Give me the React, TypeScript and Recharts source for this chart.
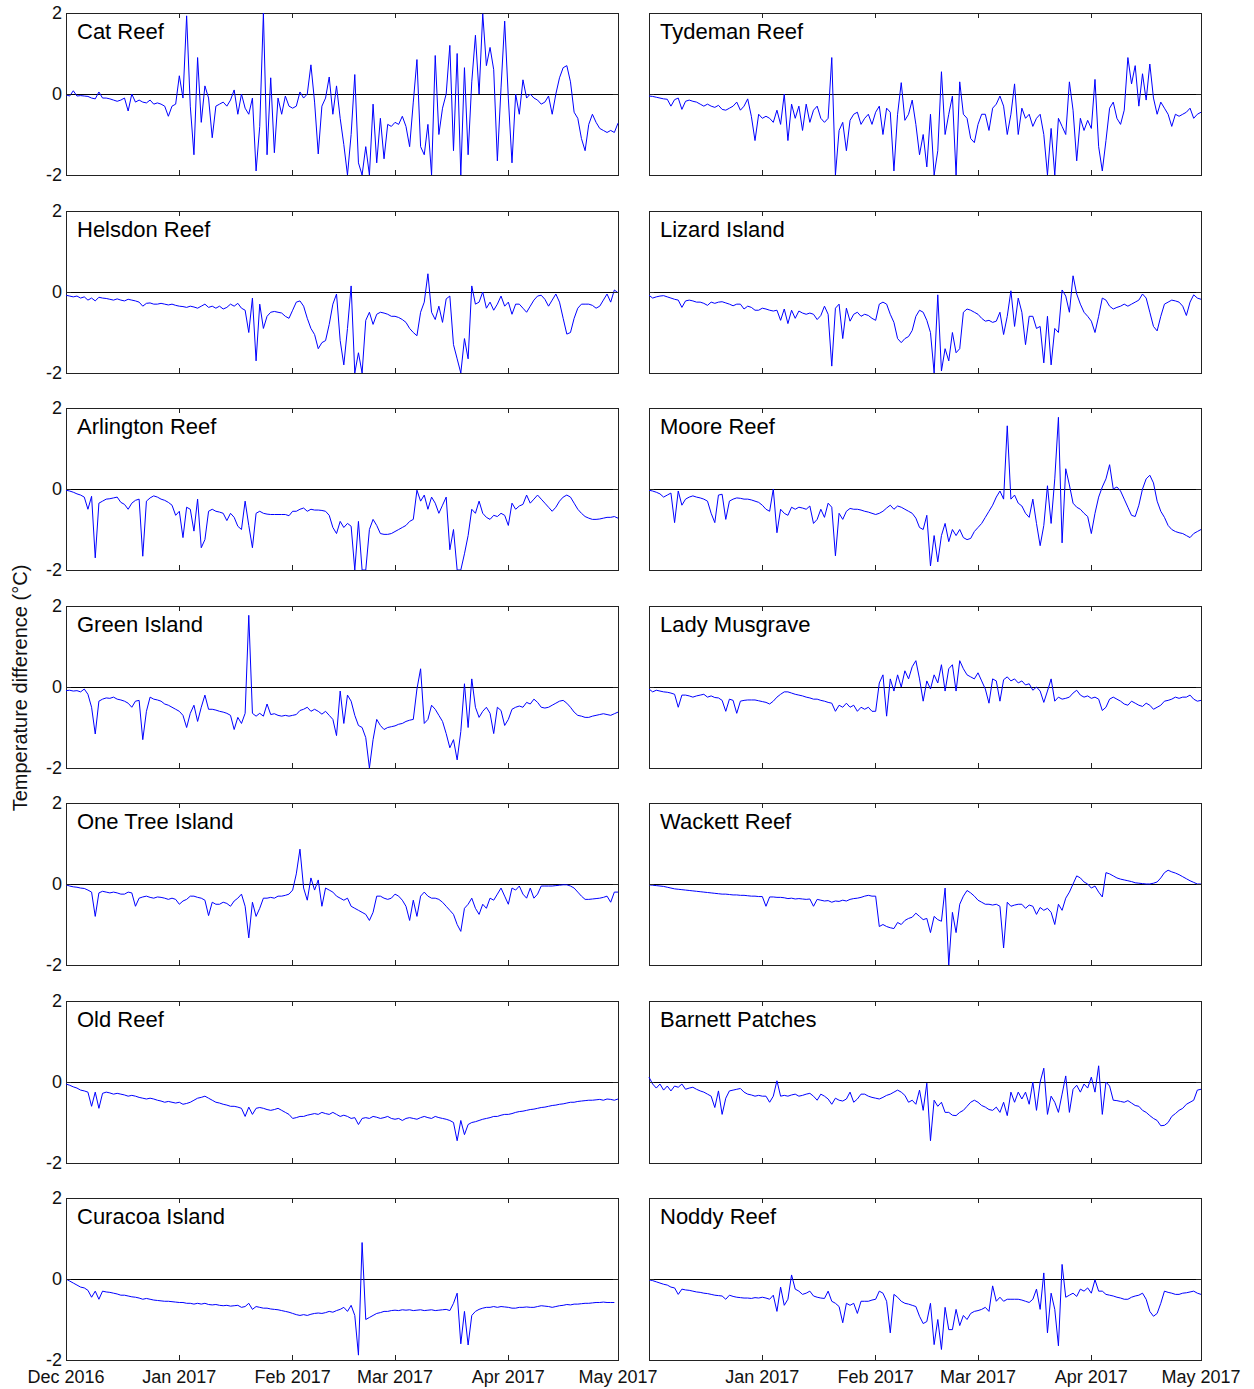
import { LineChart, Line, XAxis, YAxis, ReferenceLine, ReferenceArea } from "recharts";

const FONT = "'Liberation Sans', Arial, Helvetica, sans-serif";

// x axis: days since 1 Dec 2016
const MONTH_DAYS = [0, 31, 62, 90, 121, 151];
const MONTH_LABELS = ["Dec 2016", "Jan 2017", "Feb 2017", "Mar 2017", "Apr 2017", "May 2017"];
const Y_TICKS = [-2, 0, 2];

// daily temperature difference (°C)
const catReef = [
  -0.02, -0.05, 0.08, -0.05, -0.04, -0.05, -0.06, -0.1, -0.12, 0.05,
  -0.1, -0.1, -0.12, -0.15, -0.18, -0.15, -0.1, -0.42, 0.0, -0.2,
  -0.15, -0.2, -0.22, -0.15, -0.25, -0.22, -0.25, -0.3, -0.55, -0.3,
  -0.25, 0.45, -0.1, 1.93, -0.3, -1.5, 0.9, -0.7, 0.2, -0.1,
  -1.08, -0.3, -0.25, -0.2, -0.3, -0.15, 0.1, -0.5, 0.0, -0.35,
  -0.5, -0.1, -1.9, -0.8, 2.0, -1.5, 0.4, -1.45, -0.1, -0.5,
  -0.05, -0.3, -0.35, -0.3, 0.05, -0.1, 0.0, 0.72, -0.2, -1.48,
  -0.3, -0.1, 0.42, -0.5, 0.2, -0.6, -1.25, -2.0, -1.0, 0.48,
  -1.7, -2.0, -1.3, -2.0, -0.25, -1.7, -0.6, -1.6, -0.75, -0.8,
  -0.7, -0.75, -0.55, -0.8, -1.3, -0.2, 0.85, -1.3, -1.5, -0.75,
  -2.0, 0.95, -1.0, -0.35, 0.0, 1.2, -1.4, 1.0, -2.0, 0.65,
  -1.5, 0.3, 1.45, 0.0, 1.98, 0.7, 1.15, 0.6, -1.65, 0.15,
  1.8, -0.1, -1.7, 0.0, -0.5, 0.35, -0.1, 0.0, -0.1, -0.15,
  -0.25, -0.2, -0.05, -0.5, 0.0, 0.4, 0.65, 0.7, 0.3, -0.45,
  -0.6, -1.1, -1.4, -0.75, -0.5, -0.7, -0.85, -0.9, -0.95, -0.9,
  -0.95, -0.72,
];

const tydemanReef = [
  -0.05, -0.06, -0.08, -0.1, -0.12, -0.13, -0.3, -0.14, -0.1, -0.38,
  -0.18, -0.15, -0.18, -0.2, -0.25, -0.3, -0.25, -0.3, -0.33, -0.28,
  -0.38, -0.4, -0.35, -0.3, -0.2, -0.4, -0.3, -0.12, -0.55, -1.15,
  -0.5, -0.6, -0.55, -0.6, -0.7, -0.4, -0.75, 0.0, -1.15, -0.25,
  -0.6, -0.3, -0.9, -0.25, -0.7, -0.4, -0.3, -0.6, -0.7, -0.6,
  0.9, -2.0, -0.9, -0.7, -1.4, -0.65, -0.5, -0.45, -0.75, -0.6,
  -0.5, -0.75, -0.45, -0.3, -1.0, -0.35, -0.45, -1.9, -0.5, 0.28,
  -0.65, -0.5, -0.15, -0.75, -1.5, -1.0, -1.8, -0.5, -2.0, -1.4,
  0.55, -1.0, -0.5, -0.05, -2.0, 0.3, -0.5, -0.6, -1.1, -1.2,
  -0.75, -0.5, -0.5, -0.9, -0.35, -0.25, -0.05, -0.3, -1.0, -0.5,
  0.25, -1.0, -0.35, -0.6, -0.5, -0.8, -0.6, -0.5, -1.0, -2.0,
  -0.85, -2.0, -0.6, -0.8, -1.0, 0.3, -0.4, -1.65, -0.6, -0.9,
  -0.65, -0.85, 0.36, -1.3, -1.9, -1.15, -0.35, -0.2, -0.6, -0.75,
  -0.4, 0.9, 0.25, 0.7, -0.3, 0.5, -0.15, 0.74, -0.1, -0.5,
  -0.2, -0.35, -0.5, -0.8, -0.5, -0.55, -0.5, -0.45, -0.35, -0.6,
  -0.5, -0.45,
];

const helsdonReef = [
  -0.08, -0.1, -0.12, -0.1, -0.15, -0.12, -0.2, -0.15, -0.22, -0.13,
  -0.15, -0.16, -0.18, -0.2, -0.17, -0.2, -0.22, -0.18, -0.2, -0.22,
  -0.25, -0.35, -0.28, -0.27, -0.3, -0.3, -0.28, -0.3, -0.32, -0.3,
  -0.33, -0.35, -0.36, -0.38, -0.35, -0.37, -0.4, -0.35, -0.3, -0.38,
  -0.35, -0.4, -0.35, -0.42, -0.38, -0.3, -0.35, -0.28, -0.4, -0.45,
  -1.0, -0.15, -1.7, -0.3, -0.9, -0.6, -0.5, -0.48, -0.5, -0.52,
  -0.6, -0.65, -0.45, -0.25, -0.22, -0.35, -0.65, -0.9, -1.05, -1.4,
  -1.25, -1.2, -0.8, -0.3, -0.05, -1.2, -1.8, -0.9, 0.15, -2.0,
  -1.5, -2.0, -0.7, -0.5, -0.8, -0.55, -0.5, -0.52, -0.55, -0.6,
  -0.6, -0.63, -0.68, -0.75, -0.9, -1.0, -1.08, -0.5, -0.25, 0.45,
  -0.5, -0.68, -0.35, -0.75, -0.17, -0.1, -1.3, -1.65, -2.0, -1.15,
  -1.65, 0.15, -0.3, -0.25, 0.0, -0.4, -0.25, -0.45, -0.3, -0.1,
  -0.35, -0.25, -0.55, -0.3, -0.3, -0.4, -0.5, -0.35, -0.2, -0.1,
  -0.08, -0.18, -0.35, -0.2, -0.05, -0.25, -0.65, -1.04, -1.0, -0.65,
  -0.4, -0.3, -0.3, -0.3, -0.33, -0.4, -0.35, -0.2, -0.05, -0.25,
  0.05, -0.02,
];

const lizardIsland = [
  -0.08, -0.15, -0.12, -0.1, -0.09, -0.12, -0.15, -0.18, -0.2, -0.38,
  -0.22, -0.2, -0.22, -0.25, -0.25, -0.28, -0.33, -0.25, -0.28, -0.25,
  -0.24, -0.27, -0.3, -0.34, -0.3, -0.3, -0.42, -0.35, -0.38, -0.45,
  -0.45, -0.4, -0.42, -0.45, -0.47, -0.45, -0.7, -0.42, -0.78, -0.45,
  -0.65, -0.47, -0.52, -0.55, -0.52, -0.55, -0.68, -0.58, -0.35, -0.55,
  -1.83, -0.4, -0.3, -1.15, -0.4, -0.72, -0.55, -0.5, -0.6, -0.55,
  -0.58, -0.65, -0.7, -0.3, -0.25, -0.3, -0.55, -0.75, -1.15, -1.25,
  -1.15, -1.1, -0.95, -0.6, -0.45, -0.5, -0.7, -1.0, -2.0, -0.07,
  -1.95, -1.4, -1.7, -1.0, -1.5, -1.4, -0.5, -0.42, -0.45, -0.5,
  -0.55, -0.65, -0.72, -0.7, -0.75, -0.72, -0.5, -1.05, -0.6, 0.03,
  -0.85, -0.15, -0.5, -1.3, -0.6, -0.6, -0.9, -0.85, -1.75, -0.6,
  -1.8, -0.9, -1.0, 0.05, -0.1, -0.5, 0.4, -0.05, -0.3, -0.5,
  -0.6, -0.72, -1.0, -0.6, -0.15, -0.2, -0.35, -0.42, -0.38, -0.35,
  -0.3, -0.35, -0.3, -0.25, -0.2, -0.05, -0.15, -0.5, -0.85, -0.96,
  -0.6, -0.3, -0.25, -0.2, -0.22, -0.25, -0.35, -0.58, -0.25, -0.07,
  -0.15, -0.18,
];

const arlingtonReef = [
  -0.03, -0.05, -0.08, -0.12, -0.15, -0.2, -0.5, -0.18, -1.7, -0.35,
  -0.3, -0.25, -0.24, -0.22, -0.2, -0.33, -0.38, -0.5, -0.35, -0.28,
  -0.25, -1.66, -0.3, -0.22, -0.17, -0.2, -0.25, -0.28, -0.33, -0.4,
  -0.65, -0.55, -1.2, -0.45, -0.5, -1.04, -0.25, -1.45, -1.25, -0.55,
  -0.5, -0.55, -0.57, -0.6, -0.78, -0.6, -0.7, -0.92, -1.0, -0.3,
  -0.9, -1.45, -0.6, -0.55, -0.6, -0.62, -0.63, -0.63, -0.63, -0.63,
  -0.63, -0.66, -0.55, -0.55, -0.5, -0.47, -0.55, -0.5, -0.52, -0.52,
  -0.53, -0.55, -0.65, -0.95, -1.1, -0.8, -0.95, -0.85, -0.92, -2.0,
  -0.8, -2.0, -2.0, -1.0, -0.75, -0.9, -1.1, -1.12, -1.12, -1.1,
  -1.05, -1.0, -0.95, -0.9, -0.8, -0.75, -0.03, -0.3, -0.15, -0.5,
  -0.2, -0.35, -0.6, -0.4, -0.2, -1.5, -1.0, -2.0, -2.0, -1.6,
  -1.15, -0.5, -0.6, -0.3, -0.6, -0.7, -0.75, -0.65, -0.68, -0.6,
  -0.65, -0.9, -0.35, -0.5, -0.42, -0.38, -0.15, -0.35, -0.25, -0.15,
  -0.25, -0.35, -0.45, -0.55, -0.45, -0.3, -0.2, -0.15, -0.2, -0.35,
  -0.5, -0.6, -0.68, -0.72, -0.75, -0.75, -0.74, -0.72, -0.7, -0.7,
  -0.68, -0.72,
];

const mooreReef = [
  -0.03, -0.05, -0.08, -0.12, -0.2, -0.15, -0.1, -0.83, -0.05, -0.4,
  -0.25, -0.2, -0.17, -0.2, -0.22, -0.25, -0.3, -0.6, -0.83, -0.15,
  -0.13, -0.75, -0.3, -0.25, -0.22, -0.23, -0.25, -0.25, -0.27, -0.3,
  -0.33, -0.4, -0.5, -0.55, 0.0, -1.08, -0.5, -0.6, -0.65, -0.45,
  -0.5, -0.45, -0.47, -0.5, -0.42, -0.85, -0.75, -0.5, -0.7, -0.35,
  -0.45, -1.65, -0.6, -0.75, -0.55, -0.48, -0.5, -0.5, -0.52, -0.55,
  -0.57, -0.6, -0.63, -0.6, -0.55, -0.47, -0.4, -0.5, -0.42, -0.45,
  -0.5, -0.55, -0.6, -0.72, -0.95, -1.0, -0.65, -1.9, -1.15, -1.8,
  -1.15, -0.85, -1.3, -1.0, -1.15, -1.0, -1.2, -1.25, -1.22, -1.05,
  -0.95, -0.85, -0.7, -0.55, -0.4, -0.2, -0.05, -0.25, 1.56, -0.25,
  -0.15, -0.35, -0.42, -0.6, -0.7, -0.25, -0.85, -1.4, -0.9, 0.08,
  -0.85, 0.25, 1.77, -1.33, 0.5, 0.1, -0.35, -0.45, -0.5, -0.6,
  -0.68, -1.1, -0.6, -0.2, 0.05, 0.25, 0.6, 0.0, 0.05, -0.05,
  -0.25, -0.45, -0.65, -0.68, -0.4, 0.0, 0.25, 0.34, 0.15, -0.3,
  -0.55, -0.7, -0.9, -1.0, -1.05, -1.08, -1.1, -1.15, -1.2, -1.1,
  -1.05, -1.0,
];

const greenIsland = [
  -0.09, -0.08, -0.1, -0.09, -0.12, -0.05, -0.18, -0.5, -1.16, -0.35,
  -0.3, -0.27, -0.28, -0.25, -0.3, -0.32, -0.35, -0.4, -0.5, -0.35,
  -0.33, -1.3, -0.6, -0.25, -0.3, -0.32, -0.35, -0.42, -0.45, -0.5,
  -0.55, -0.6, -0.7, -1.0, -0.65, -0.45, -0.85, -0.5, -0.2, -0.55,
  -0.55, -0.57, -0.6, -0.62, -0.65, -0.7, -1.05, -0.75, -0.9, -0.65,
  1.77, -0.65, -0.72, -0.65, -0.72, -0.42, -0.68, -0.66, -0.7, -0.72,
  -0.7, -0.72, -0.7, -0.68, -0.58, -0.55, -0.5, -0.6, -0.55, -0.6,
  -0.67, -0.6, -0.7, -0.8, -1.2, -0.1, -0.9, -0.2, -0.35, -0.7,
  -0.95, -1.0, -1.25, -2.0, -1.3, -0.8, -0.95, -1.05, -1.0, -0.98,
  -0.96, -0.92, -0.9, -0.85, -0.82, -0.8, -0.05, 0.45, -0.9, -0.8,
  -0.45, -0.55, -0.7, -0.85, -1.15, -1.5, -1.3, -1.8, -1.1, 0.08,
  -1.0, 0.2, -0.5, -0.75, -0.6, -0.5, -0.65, -1.15, -0.5, -0.58,
  -0.95, -0.8, -0.55, -0.5, -0.47, -0.5, -0.38, -0.42, -0.3, -0.38,
  -0.5, -0.52, -0.5, -0.45, -0.4, -0.35, -0.33, -0.4, -0.5, -0.62,
  -0.7, -0.72, -0.75, -0.75, -0.72, -0.7, -0.68, -0.66, -0.68, -0.7,
  -0.66, -0.62,
];

const ladyMusgrave = [
  -0.05, -0.12, -0.08, -0.1, -0.12, -0.13, -0.15, -0.18, -0.5, -0.2,
  -0.2, -0.22, -0.25, -0.22, -0.2, -0.18, -0.25, -0.22, -0.26, -0.27,
  -0.33, -0.6, -0.3, -0.33, -0.65, -0.35, -0.33, -0.32, -0.32, -0.32,
  -0.34, -0.36, -0.38, -0.42, -0.35, -0.25, -0.18, -0.12, -0.12, -0.15,
  -0.18, -0.2, -0.22, -0.25, -0.27, -0.3, -0.3, -0.33, -0.35, -0.38,
  -0.4, -0.6, -0.45, -0.5, -0.4, -0.5, -0.45, -0.6, -0.5, -0.55,
  -0.5, -0.6, -0.6, 0.1, 0.3, -0.72, 0.2, -0.1, 0.3, 0.0,
  0.4, 0.2, 0.5, 0.65, 0.2, -0.35, 0.15, -0.05, 0.3, 0.1,
  0.55, -0.1, 0.45, 0.55, -0.1, 0.65, 0.45, 0.3, 0.25, 0.2,
  0.35, 0.15, -0.05, -0.4, 0.2, 0.15, -0.35, 0.18, 0.25, 0.15,
  0.2, 0.1, 0.15, 0.05, 0.08, -0.08, 0.0, -0.1, -0.38, -0.1,
  0.2, -0.35, -0.25, -0.3, -0.28, -0.25, -0.15, -0.08, -0.2, -0.25,
  -0.22, -0.28, -0.25, -0.3, -0.58, -0.5, -0.3, -0.25, -0.3, -0.35,
  -0.42, -0.45, -0.35, -0.4, -0.45, -0.48, -0.4, -0.45, -0.55, -0.5,
  -0.45, -0.35, -0.33, -0.3, -0.25, -0.28, -0.25, -0.25, -0.2, -0.3,
  -0.35, -0.33,
];

const oneTreeIsland = [
  -0.02, -0.05, -0.07, -0.08, -0.1, -0.11, -0.15, -0.2, -0.8, -0.22,
  -0.18, -0.2, -0.22, -0.2, -0.22, -0.25, -0.25, -0.2, -0.22, -0.55,
  -0.35, -0.32, -0.3, -0.33, -0.35, -0.32, -0.33, -0.35, -0.38, -0.35,
  -0.38, -0.5, -0.42, -0.38, -0.3, -0.3, -0.33, -0.35, -0.4, -0.78,
  -0.45, -0.5, -0.5, -0.45, -0.48, -0.55, -0.42, -0.35, -0.25, -0.55,
  -1.33, -0.45, -0.8, -0.6, -0.35, -0.35, -0.33, -0.35, -0.3, -0.3,
  -0.28, -0.25, -0.15, 0.25, 0.86, -0.1, -0.4, 0.15, -0.15, 0.1,
  -0.55, -0.1, -0.15, -0.2, -0.3, -0.35, -0.4, -0.35, -0.55, -0.6,
  -0.65, -0.7, -0.75, -0.9, -0.7, -0.3, -0.3, -0.35, -0.38, -0.35,
  -0.25, -0.3, -0.4, -0.55, -0.9, -0.4, -0.8, -0.3, -0.2, -0.3,
  -0.35, -0.35, -0.38, -0.45, -0.55, -0.65, -0.75, -1.0, -1.17, -0.6,
  -0.5, -0.35, -0.6, -0.75, -0.5, -0.6, -0.35, -0.4, -0.25, -0.1,
  -0.3, -0.5, -0.1, -0.15, -0.05, -0.25, -0.35, -0.1, -0.35, -0.25,
  -0.05, -0.05, -0.05, -0.05, -0.04, -0.03, -0.02, -0.02, -0.05, -0.1,
  -0.2, -0.3, -0.38, -0.38, -0.37, -0.36, -0.35, -0.33, -0.3, -0.45,
  -0.2, -0.2,
];

const wackettReef = [
  -0.02, -0.03, -0.04, -0.05, -0.06, -0.08, -0.1, -0.12, -0.13, -0.14,
  -0.15, -0.16, -0.17, -0.18, -0.19, -0.2, -0.21, -0.22, -0.23, -0.24,
  -0.25, -0.25, -0.26, -0.27, -0.27, -0.28, -0.28, -0.29, -0.3, -0.3,
  -0.31, -0.31, -0.55, -0.32, -0.32, -0.33, -0.33, -0.34, -0.36, -0.35,
  -0.37, -0.36, -0.37, -0.38, -0.37, -0.55, -0.38, -0.4, -0.42, -0.41,
  -0.45, -0.42, -0.43, -0.4, -0.42, -0.38, -0.36, -0.35, -0.33, -0.3,
  -0.28, -0.3, -0.3, -1.05, -1.0, -1.05, -1.08, -1.1, -0.95, -1.0,
  -0.9, -0.85, -0.82, -0.72, -0.8, -0.88, -0.85, -1.2, -0.8, -0.88,
  -0.92, -0.1, -2.0, -0.7, -1.2, -0.5, -0.3, -0.16, -0.22, -0.3,
  -0.4, -0.45, -0.5, -0.5, -0.52, -0.5, -0.55, -1.58, -0.45, -0.55,
  -0.52, -0.5, -0.5, -0.6, -0.52, -0.55, -0.75, -0.58, -0.65, -0.6,
  -0.7, -1.0, -0.5, -0.65, -0.35, -0.2, 0.0, 0.2, 0.15, 0.05,
  0.0, -0.1, -0.05, -0.2, -0.32, 0.28, 0.25, 0.2, 0.15, 0.12,
  0.1, 0.08, 0.06, 0.03, 0.02, 0.01, 0.0, 0.0, 0.02, 0.05,
  0.15, 0.28, 0.34, 0.3, 0.27, 0.23, 0.18, 0.13, 0.08, 0.04,
  0.0, 0.0,
];

const oldReef = [
  -0.05, -0.08, -0.12, -0.15, -0.2, -0.22, -0.25, -0.6, -0.25, -0.65,
  -0.28, -0.25, -0.27, -0.3, -0.28, -0.3, -0.32, -0.35, -0.33, -0.35,
  -0.38, -0.4, -0.42, -0.4, -0.42, -0.45, -0.47, -0.5, -0.48, -0.5,
  -0.52, -0.5, -0.55, -0.53, -0.5, -0.45, -0.4, -0.38, -0.35, -0.4,
  -0.45, -0.5, -0.52, -0.55, -0.57, -0.6, -0.6, -0.62, -0.65, -0.85,
  -0.62, -0.8, -0.65, -0.63, -0.65, -0.68, -0.7, -0.68, -0.65, -0.7,
  -0.75, -0.8, -0.9, -0.88, -0.85, -0.85, -0.82, -0.8, -0.78, -0.8,
  -0.75, -0.78, -0.8, -0.75, -0.8, -0.85, -0.82, -0.85, -0.9, -0.88,
  -1.05, -0.9, -0.88, -0.9, -0.85, -0.87, -0.9, -0.88, -0.85, -0.9,
  -0.92, -0.9, -0.95, -0.9, -0.88, -0.9, -0.92, -0.88, -0.85, -0.88,
  -0.9, -0.85, -0.88, -0.9, -0.92, -0.95, -1.0, -1.45, -0.95, -1.3,
  -1.05, -1.0, -0.98, -0.95, -0.92, -0.9, -0.88, -0.85, -0.85, -0.82,
  -0.8, -0.8, -0.78, -0.75, -0.73, -0.72, -0.7, -0.68, -0.67, -0.65,
  -0.63, -0.62, -0.6, -0.58, -0.57, -0.55, -0.54, -0.52, -0.5, -0.5,
  -0.48, -0.47, -0.46, -0.45, -0.45, -0.44, -0.43, -0.45, -0.42, -0.43,
  -0.45, -0.42,
];

const barnettPatches = [
  0.12, -0.05, -0.15, -0.05, -0.2, -0.1, -0.22, -0.1, -0.13, -0.05,
  -0.18, -0.15, -0.13, -0.18, -0.22, -0.25, -0.3, -0.35, -0.63, -0.22,
  -0.8, -0.4, -0.22, -0.2, -0.18, -0.16, -0.25, -0.3, -0.32, -0.35,
  -0.33, -0.35, -0.35, -0.5, -0.35, 0.03, -0.35, -0.33, -0.35, -0.32,
  -0.3, -0.35, -0.33, -0.3, -0.28, -0.35, -0.45, -0.3, -0.35, -0.42,
  -0.55, -0.4, -0.45, -0.47, -0.42, -0.25, -0.5, -0.42, -0.3, -0.3,
  -0.35, -0.38, -0.4, -0.42, -0.38, -0.33, -0.3, -0.25, -0.2, -0.25,
  -0.33, -0.5, -0.45, -0.55, -0.2, -0.7, -0.03, -1.45, -0.45, -0.6,
  -0.5, -0.75, -0.75, -0.82, -0.83, -0.75, -0.7, -0.6, -0.5, -0.45,
  -0.5, -0.58, -0.62, -0.68, -0.7, -0.62, -0.75, -0.5, -0.83, -0.25,
  -0.5, -0.25, -0.42, -0.25, -0.55, 0.0, -0.7, 0.0, 0.34, -0.8,
  -0.35, -0.5, -0.75, -0.3, 0.15, -0.75, -0.18, -0.08, -0.25, -0.05,
  -0.15, 0.12, -0.25, 0.4, -0.8, 0.0, -0.1, -0.45, -0.46, -0.48,
  -0.5, -0.46, -0.52, -0.58, -0.6, -0.7, -0.75, -0.83, -0.9, -0.95,
  -1.08, -1.07, -1.0, -0.85, -0.78, -0.7, -0.65, -0.55, -0.5, -0.45,
  -0.2, -0.18,
];

const curacoaIsland = [
  0.0, -0.05, -0.1, -0.15, -0.2, -0.22, -0.28, -0.45, -0.3, -0.5,
  -0.3, -0.32, -0.33, -0.35, -0.37, -0.4, -0.4, -0.42, -0.44, -0.45,
  -0.47, -0.5, -0.48, -0.5, -0.52, -0.53, -0.54, -0.55, -0.55, -0.56,
  -0.57, -0.58, -0.58, -0.6, -0.6, -0.62, -0.6, -0.62, -0.6, -0.63,
  -0.64, -0.63, -0.65, -0.66, -0.65, -0.67, -0.66, -0.65, -0.7, -0.68,
  -0.6, -0.75, -0.68, -0.7, -0.72, -0.72, -0.74, -0.75, -0.76, -0.78,
  -0.8, -0.82, -0.85, -0.88, -0.9, -0.88, -0.9, -0.87, -0.85, -0.84,
  -0.85, -0.83, -0.8, -0.82, -0.78, -0.75, -0.7, -0.8, -0.65, -0.9,
  -1.88, 0.9, -1.0, -0.95, -0.9, -0.85, -0.83, -0.8, -0.8, -0.78,
  -0.77, -0.78, -0.76, -0.77, -0.76, -0.78, -0.77, -0.76, -0.78, -0.77,
  -0.76, -0.78, -0.77, -0.76, -0.75, -0.78, -0.6, -0.35, -1.6, -0.8,
  -1.63, -0.9, -0.8, -0.75, -0.72, -0.7, -0.7, -0.68, -0.7, -0.68,
  -0.69, -0.7, -0.72, -0.72, -0.7, -0.7, -0.69, -0.7, -0.7, -0.68,
  -0.66, -0.67, -0.68, -0.7, -0.68, -0.66, -0.65, -0.63, -0.64, -0.62,
  -0.62, -0.61, -0.6, -0.6, -0.59, -0.58, -0.58, -0.57, -0.58, -0.58,
  -0.58,
];

const noddyReef = [
  -0.02, -0.04, -0.07, -0.1, -0.13, -0.15, -0.2, -0.22, -0.38, -0.25,
  -0.27, -0.28, -0.3, -0.32, -0.33, -0.35, -0.36, -0.38, -0.4, -0.41,
  -0.42, -0.5, -0.4, -0.43, -0.45, -0.46, -0.47, -0.47, -0.48, -0.46,
  -0.47, -0.45, -0.47, -0.5, -0.4, -0.8, -0.2, -0.65, -0.5, 0.1,
  -0.25, -0.3, -0.38, -0.35, -0.3, -0.42, -0.45, -0.47, -0.48, -0.3,
  -0.55, -0.6, -0.68, -1.08, -0.6, -0.65, -0.6, -0.85, -0.55, -0.55,
  -0.55, -0.52, -0.5, -0.3, -0.35, -0.55, -1.33, -0.38, -0.45, -0.55,
  -0.6, -0.62, -0.65, -0.68, -0.92, -1.1, -1.05, -0.6, -1.62, -1.0,
  -1.74, -0.7, -1.25, -1.25, -0.75, -1.15, -0.9, -1.0, -0.85, -0.8,
  -0.78, -0.75, -0.7, -0.8, -0.17, -0.55, -0.45, -0.55, -0.5, -0.5,
  -0.5, -0.5, -0.52, -0.55, -0.58, -0.5, -0.25, -0.75, 0.15, -1.33,
  -0.35, -0.75, -1.65, 0.36, -0.45, -0.4, -0.35, -0.43, -0.25, -0.3,
  -0.22, -0.35, -0.02, -0.3, -0.3, -0.38, -0.4, -0.42, -0.45, -0.47,
  -0.5, -0.5, -0.45, -0.42, -0.4, -0.35, -0.5, -0.8, -0.92, -0.85,
  -0.6, -0.3, -0.33, -0.35, -0.38, -0.38, -0.35, -0.34, -0.32, -0.3,
  -0.35, -0.38,
];

const SITES = [
  { name: "Cat Reef", values: catReef, col: 0, row: 0 },
  { name: "Tydeman Reef", values: tydemanReef, col: 1, row: 0 },
  { name: "Helsdon Reef", values: helsdonReef, col: 0, row: 1 },
  { name: "Lizard Island", values: lizardIsland, col: 1, row: 1 },
  { name: "Arlington Reef", values: arlingtonReef, col: 0, row: 2 },
  { name: "Moore Reef", values: mooreReef, col: 1, row: 2 },
  { name: "Green Island", values: greenIsland, col: 0, row: 3 },
  { name: "Lady Musgrave", values: ladyMusgrave, col: 1, row: 3 },
  { name: "One Tree Island", values: oneTreeIsland, col: 0, row: 4 },
  { name: "Wackett Reef", values: wackettReef, col: 1, row: 4 },
  { name: "Old Reef", values: oldReef, col: 0, row: 5 },
  { name: "Barnett Patches", values: barnettPatches, col: 1, row: 5 },
  { name: "Curacoa Island", values: curacoaIsland, col: 0, row: 6 },
  { name: "Noddy Reef", values: noddyReef, col: 1, row: 6 },
];

const PW = 552;
const PH = 162;
const TICK_LEN = 5;
const COL_X = [66, 649];
const rowTop = (r: number) => Math.round(13 + r * 197.5);
const PAD_L = 50;
const PAD_T = 14;
const PAD_R = 46;
const PAD_B = 40;
const AXIS_COLOR = "#222";

function XTick(props: any) {
  const { x, y, payload, showLabel, skipFirst } = props;
  const idx = MONTH_DAYS.indexOf(payload.value);
  const label = showLabel && !(skipFirst && idx === 0);
  return (
    <g>
      <line x1={x} x2={x} y1={y} y2={y - TICK_LEN} stroke={AXIS_COLOR} shapeRendering="crispEdges" />
      <line x1={x} x2={x} y1={y - PH} y2={y - PH + TICK_LEN} stroke={AXIS_COLOR} shapeRendering="crispEdges" />
      {label && (
        <text x={x} y={y + 23} textAnchor="middle" fontSize={18} fontFamily={FONT} fill="#111">
          {MONTH_LABELS[idx]}
        </text>
      )}
    </g>
  );
}

function YTick(props: any) {
  const { x, y, payload, showLabel } = props;
  return (
    <g>
      <line x1={x} x2={x + TICK_LEN} y1={y} y2={y} stroke={AXIS_COLOR} shapeRendering="crispEdges" />
      <line x1={x + PW} x2={x + PW - TICK_LEN} y1={y} y2={y} stroke={AXIS_COLOR} shapeRendering="crispEdges" />
      {showLabel && (
        <text x={x - 4} y={y} dy="0.36em" textAnchor="end" fontSize={18} fontFamily={FONT} fill="#111">
          {payload.value}
        </text>
      )}
    </g>
  );
}

function Panel({ site }: { site: (typeof SITES)[number] }) {
  const data = site.values.map((v, i) => ({ day: i, v }));
  const left = COL_X[site.col];
  const top = rowTop(site.row);
  const bottomRow = site.row === 6;
  const leftCol = site.col === 0;
  return (
    <div style={{ position: "absolute", left: left - PAD_L, top: top - PAD_T }}>
      <LineChart
        width={PAD_L + PW + PAD_R}
        height={PAD_T + PH + PAD_B}
        data={data}
        margin={{ top: PAD_T, right: PAD_R, bottom: PAD_B - 30, left: PAD_L - 40 }}
      >
        <XAxis
          dataKey="day"
          type="number"
          domain={[0, 151]}
          ticks={MONTH_DAYS}
          interval={0}
          height={30}
          tickSize={0}
          tickMargin={0}
          axisLine={false}
          tickLine={false}
          tick={(p: any) => <XTick {...p} showLabel={bottomRow} skipFirst={!leftCol} />}
        />
        <YAxis
          type="number"
          domain={[-2, 2]}
          ticks={Y_TICKS}
          interval={0}
          width={40}
          tickSize={0}
          tickMargin={0}
          axisLine={false}
          tickLine={false}
          allowDataOverflow
          tick={(p: any) => <YTick {...p} showLabel={leftCol} />}
        />
        <ReferenceArea
          x1={0}
          x2={151}
          y1={-2}
          y2={2}
          fill="none"
          fillOpacity={0}
          stroke={AXIS_COLOR}
          strokeWidth={1}
          shapeRendering="crispEdges"
        />
        <ReferenceLine y={0} stroke="#000" strokeWidth={1} shapeRendering="crispEdges" />
        <Line
          dataKey="v"
          type="linear"
          stroke="#0000ff"
          strokeWidth={1}
          dot={false}
          activeDot={false}
          isAnimationActive={false}
        />
      </LineChart>
      <div
        style={{
          position: "absolute",
          left: PAD_L + 11,
          top: PAD_T + 8,
          fontFamily: FONT,
          fontSize: 22,
          lineHeight: "22px",
          color: "#000",
          whiteSpace: "nowrap",
        }}
      >
        {site.name}
      </div>
    </div>
  );
}

export default function App() {
  return (
    <div
      style={{
        position: "absolute",
        left: 0,
        top: 0,
        width: 1254,
        height: 1389,
        background: "#fff",
        overflow: "hidden",
      }}
    >
      {SITES.map((s) => (
        <Panel key={s.name} site={s} />
      ))}
      <div
        style={{
          position: "absolute",
          left: 20,
          top: 688,
          transform: "translate(-50%, -50%) rotate(-90deg)",
          fontFamily: FONT,
          fontSize: 20,
          whiteSpace: "nowrap",
          color: "#111",
        }}
      >
        Temperature difference (°C)
      </div>
    </div>
  );
}
